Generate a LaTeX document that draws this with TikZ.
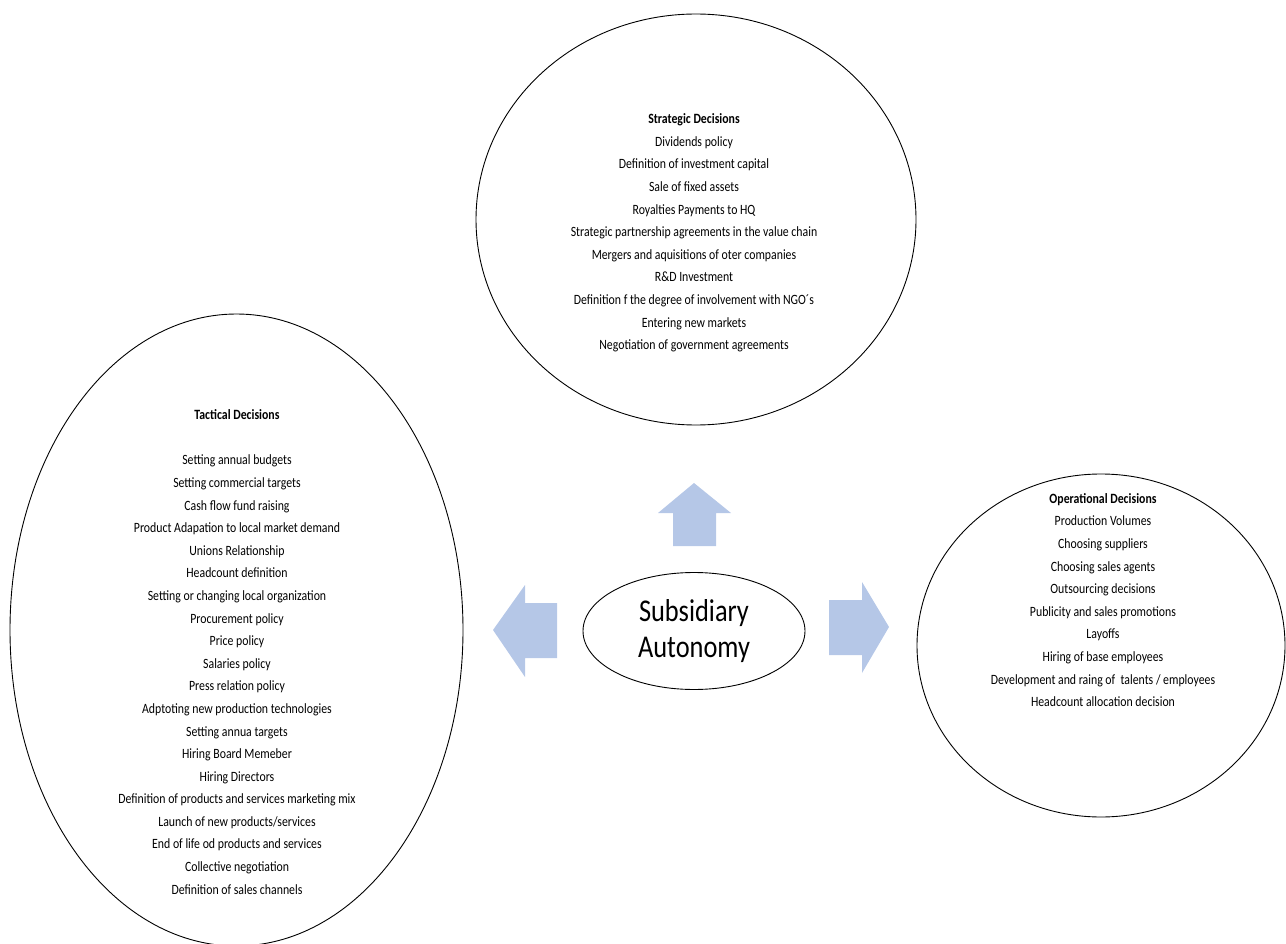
\documentclass[tikz,border=0pt]{standalone}
\usepackage{fontspec}
\setmainfont{Carlito}
\usetikzlibrary{shapes.geometric}
\definecolor{arrowblue}{RGB}{181,199,231}
\tikzset{
  oval/.style={draw=black, line width=0.9pt, ellipse, inner sep=0pt},
  tall/.style={yscale=1.2, transform shape},
  listtext/.style={align=center, font=\fontsize{11.8}{18.83}\selectfont, inner sep=0pt, tall},
  blockarrow/.style={fill=arrowblue, draw=none}
}
\begin{document}
\begin{tikzpicture}[x=1pt,y=-1pt]
\useasboundingbox (0,0) rectangle (1286,944);

% the three decision areas
\node[oval, minimum width=440pt, minimum height=411pt] (strategic) at (696,219.5) {};
\node[oval, minimum width=453pt, minimum height=632pt] (tactical) at (236.5,630) {};
\node[oval, minimum width=368pt, minimum height=343pt] (operational) at (1101,645.5) {};

% centre
\node[oval, minimum width=222pt, minimum height=117pt] (center) at (694,631) {};
\node[align=center, inner sep=0pt, font=\fontsize{26.4}{30}\selectfont, tall]
  (centertext) at (center) {Subsidiary\\Autonomy};

% block arrows pointing out of the centre
\fill[blockarrow] (673,546) -- (673,513) -- (658,513) -- (694,483) -- (731,513)
  -- (716,513) -- (716,546) -- cycle;
\fill[blockarrow] (557,603) -- (525,603) -- (525,585) -- (493,630) -- (525,677)
  -- (525,658) -- (557,658) -- cycle;
\fill[blockarrow] (829,600) -- (862,600) -- (862,582) -- (889,627) -- (862,673)
  -- (862,655) -- (829,655) -- cycle;

% list positions
\coordinate (sp) at (694,233);
\coordinate (tp) at (237,652);
\coordinate (op) at (1103,600);

% lists
\node[listtext] (strategiclist) at (sp) {%
  \textbf{Strategic Decisions}\\
  Dividends policy\\
  Definition of investment capital\\
  Sale of fixed assets\\
  Royalties Payments to HQ\\
  Strategic partnership agreements in the value chain\\
  Mergers and aquisitions of oter companies\\
  R\&D Investment\\
  Definition f the degree of involvement with NGO´s\\
  Entering new markets\\
  Negotiation of government agreements};

\node[listtext] (tacticallist) at (tp) {%
  \textbf{Tactical Decisions}\\
  \mbox{}\\
  Setting annual budgets\\
  Setting commercial targets\\
  Cash flow fund raising\\
  Product Adapation to local market demand\\
  Unions Relationship\\
  Headcount definition\\
  Setting or changing local organization\\
  Procurement policy\\
  Price policy\\
  Salaries policy\\
  Press relation policy\\
  Adptoting new production technologies\\
  Setting annua targets\\
  Hiring Board Memeber\\
  Hiring Directors\\
  Definition of products and services marketing mix\\
  Launch of new products/services\\
  End of life od products and services\\
  Collective negotiation\\
  Definition of sales channels};

\node[listtext] (operationallist) at (op) {%
  \textbf{Operational Decisions}\\
  Production Volumes\\
  Choosing suppliers\\
  Choosing sales agents\\
  Outsourcing decisions\\
  Publicity and sales promotions\\
  Layoffs\\
  Hiring of base employees\\
  Development and raing of \ talents / employees\\
  Headcount allocation decision};
\end{tikzpicture}
\end{document}
